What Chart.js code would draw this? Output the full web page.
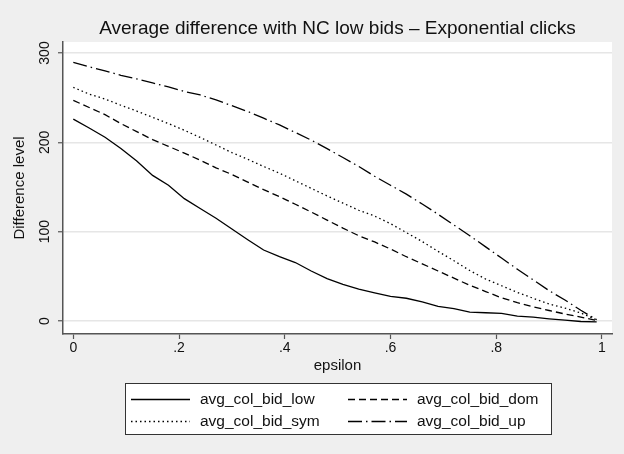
<!DOCTYPE html>
<html>
<head>
<meta charset="utf-8">
<script src="https://cdn.jsdelivr.net/npm/chart.js@4/dist/chart.umd.min.js"></script>
<style>
  html, body { margin: 0; padding: 0; background: #efefef; }
  #wrap { width: 624px; height: 454px; }
</style>
</head>
<body>
<div id="wrap"><canvas id="c" width="624" height="454"></canvas></div>
<script>
// ---- data ----
const epsilon = [0, .03, .06, .09, .12, .15, .18, .21, .24, .27, .30, .33, .36, .39, .42, .45, .48,
                 .51, .54, .57, .60, .63, .66, .69, .72, .75, .78, .81, .84, .87, .90, .93, .96, .99];
const avgColBidLow = [226, 216, 205.7, 193, 179, 163, 152, 137, 126, 115, 103, 91, 79.5, 72, 65.5, 56, 47.5,
                      41, 35.8, 31.5, 27.5, 25.5, 21.5, 16.5, 14, 10, 9.3, 8.5, 5.5, 4.3, 2.5, 1, -0.5, -1];
const avgColBidDom = [247, 239, 231, 221, 212, 203, 195.5, 188, 180, 171.5, 164, 155.5, 147, 139.3, 130.7, 122, 113,
                      104, 95.5, 88.5, 80.6, 72, 64, 56, 48, 40, 33, 26, 20.5, 15.8, 11.8, 7.9, 4.5, 0.5];
const avgColBidSym = [261.5, 254, 248.5, 241.5, 235, 228, 221, 213.5, 205.5, 197, 188.5, 181, 173, 165.5, 157, 148.5, 140,
                      132, 124, 117.5, 109, 99, 89, 78, 67.5, 56.5, 47, 39.5, 32, 25.5, 19, 14.5, 9, 1.5];
const avgColBidUp  = [289.5, 284.5, 280, 275, 271, 266.5, 262, 257, 253, 247.5, 241, 234.5, 227, 219.5, 211, 202.5, 193,
                      183, 173, 162, 152, 142, 131, 119.5, 107.5, 95.5, 83, 70.5, 58, 46, 34, 23.5, 12, 1.5];
const seriesNames = ['avg_col_bid_low', 'avg_col_bid_dom', 'avg_col_bid_sym', 'avg_col_bid_up'];
const xTicks = [0, 0.2, 0.4, 0.6, 0.8, 1];
const xTickLabels = ['0', '.2', '.4', '.6', '.8', '1'];
const yTicks = [0, 100, 200, 300];
const yTickLabels = ['0', '100', '200', '300'];
const titleText = 'Average difference with NC low bids \u2013 Exponential clicks';
const xTitle = 'epsilon';
const yTitle = 'Difference level';

// ---- styles ----
const FONT = "'Liberation Sans', Arial, sans-serif";
const INK = '#111111';
const dashes = [[], [7, 4], [1.5, 3], [14, 4, 1.5, 4]];
const seriesValues = [avgColBidLow, avgColBidDom, avgColBidSym, avgColBidUp];

const datasets = seriesValues.map((vals, k) => ({
  label: seriesNames[k],
  data: epsilon.map((e, i) => ({ x: e, y: vals[i] })),
  borderColor: '#000000',
  borderWidth: 1.3,
  borderDash: dashes[k],
  pointRadius: 0,
  tension: 0,
  fill: false
}));

const bgPlugin = {
  id: 'bg',
  beforeDraw(chart) {
    const { ctx, chartArea: a } = chart;
    ctx.save();
    ctx.fillStyle = '#efefef';
    ctx.fillRect(0, 0, chart.width, chart.height);
    ctx.fillStyle = '#ffffff';
    ctx.fillRect(a.left, a.top, a.right - a.left, a.bottom - a.top);
    ctx.restore();
  }
};

// Stata-like boxed two-column legend
const legendPlugin = {
  id: 'stataLegend',
  afterDraw(chart) {
    const { ctx } = chart;
    const box = { x: 125, y: 383, w: 427, h: 52 };
    ctx.save();
    ctx.fillStyle = '#ffffff';
    ctx.fillRect(box.x, box.y, box.w, box.h);
    ctx.strokeStyle = '#333333';
    ctx.lineWidth = 1;
    ctx.strokeRect(box.x + 0.5, box.y + 0.5, box.w - 1, box.h - 1);
    const cols = [131, 348];
    const rows = [399.5, 421.5];
    [0, 1, 2, 3].forEach((di, idx) => {
      const ds = chart.data.datasets[di];
      const cx = cols[idx % 2];
      const cy = rows[Math.floor(idx / 2)];
      ctx.beginPath();
      ctx.setLineDash(ds.borderDash);
      ctx.strokeStyle = ds.borderColor;
      ctx.lineWidth = ds.borderWidth;
      ctx.moveTo(cx, cy);
      ctx.lineTo(cx + 59, cy);
      ctx.stroke();
      ctx.setLineDash([]);
      ctx.fillStyle = INK;
      ctx.font = '15.5px ' + FONT;
      ctx.textBaseline = 'middle';
      ctx.textAlign = 'left';
      ctx.fillText(ds.label, cx + 69, cy);
    });
    ctx.restore();
  }
};

new Chart(document.getElementById('c'), {
  type: 'line',
  data: { datasets },
  plugins: [bgPlugin, legendPlugin],
  options: {
    responsive: false,
    devicePixelRatio: 1,
    animation: false,
    layout: { padding: { left: 0, right: 12, top: 0, bottom: 0 } },
    plugins: {
      legend: { display: false },
      tooltip: { enabled: false },
      title: {
        display: true,
        text: titleText,
        fullSize: false,
        color: INK,
        font: { family: FONT, size: 19, weight: 'normal', lineHeight: 1.2 },
        padding: { top: 17, bottom: 2.2 }
      }
    },
    scales: {
      x: {
        type: 'linear',
        min: -0.0195,
        max: 1.019,
        afterFit(s) { s.height = 120; },
        afterBuildTicks(s) { s.ticks = xTicks.map(v => ({ value: v })); },
        border: { display: true, color: '#555555', width: 1.5 },
        grid: { display: true, drawOnChartArea: false, drawTicks: true, tickLength: 5, tickColor: '#555555', tickWidth: 1.2 },
        ticks: {
          color: INK,
          padding: 1,
          autoSkip: false,
          maxRotation: 0,
          font: { family: FONT, size: 14 },
          callback: (v) => { const i = xTicks.findIndex(t => Math.abs(t - v) < 1e-9); return i >= 0 ? xTickLabels[i] : ''; }
        },
        title: {
          display: true,
          text: xTitle,
          color: INK,
          font: { family: FONT, size: 15, lineHeight: 1.2 },
          padding: { top: 0, bottom: 79 }
        }
      },
      y: {
        type: 'linear',
        min: -14.5,
        max: 312.3,
        afterFit(s) { s.width = 63; },
        afterBuildTicks(s) { s.ticks = yTicks.map(v => ({ value: v })); },
        border: { display: true, color: '#555555', width: 1.5 },
        grid: { display: true, drawOnChartArea: true, color: '#e6e6e6', lineWidth: 1.5, drawTicks: true, tickLength: 5, tickColor: '#555555', tickWidth: 1.2 },
        ticks: {
          color: INK,
          padding: 1,
          minRotation: 90,
          maxRotation: 90,
          crossAlign: 'center',
          font: { family: FONT, size: 14 },
          callback: (v) => { const i = yTicks.indexOf(v); return i >= 0 ? yTickLabels[i] : ''; }
        },
        title: {
          display: true,
          text: yTitle,
          color: INK,
          font: { family: FONT, size: 15, lineHeight: 1.2 },
          padding: { top: 11, bottom: 0 }
        }
      }
    }
  }
});
</script>
</body>
</html>
